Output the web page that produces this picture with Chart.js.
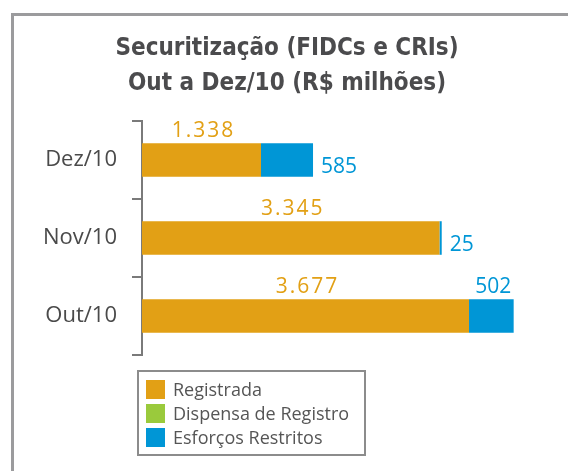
<!DOCTYPE html>
<html>
<head>
<meta charset="utf-8">
<script src="https://cdn.jsdelivr.net/npm/chart.js@4"></script>
<style>
  body { margin: 0; background: #fff; }
  #wrap { position: relative; width: 568px; height: 471px; overflow: hidden; }
  #frame { position: absolute; left: 11px; top: 13px; width: 600px; height: 500px;
           border-left: 3px solid #9b9b9d; border-top: 3px solid #9b9b9d; }
  #chart { position: absolute; left: 0; top: 0; }
  #legend { position: absolute; left: 137px; top: 370px; width: 229px; height: 86px;
            box-sizing: border-box; border: 2px solid #8c8c8c; padding: 6px 0 0 7px;
            font-family: "Open Sans", sans-serif; font-size: 18px; color: #555; }
  .item { display: flex; align-items: center; height: 26px; margin-top: -2px; }
  .item span.sw { width: 19px; height: 19px; margin-right: 8px; }
</style>
</head>
<body>
<div id="wrap">
  <div id="frame"></div>
  <canvas id="chart" width="568" height="471"></canvas>
  <div id="legend"></div>
</div>
<script>
const months = ['Dez/10', 'Nov/10', 'Out/10'];
const registrada = [1338, 3345, 3677];
const dispensa = [0, 0, 0];
const esforcos = [585, 25, 502];
const seriesNames = ['Registrada', 'Dispensa de Registro', 'Esforços Restritos'];
const seriesColors = ['#e2a015', '#9aca3c', '#0096d6'];

function fmt(v){
  return String(v).replace(/\B(?=(\d{3})+(?!\d))/g, '.');
}

// value labels: orange above each segment, blue beside or above
const barLabels = {
  id: 'barLabels',
  afterDatasetsDraw(chart, args, opts) {
    const ctx = chart.ctx;
    chart.data.datasets.forEach((ds, di) => {
      const place = opts.place[di];
      if (!place) return;
      chart.getDatasetMeta(di).data.forEach((bar, i) => {
        const v = ds.data[i];
        if (!v) return;
        const p = bar.getProps(['x', 'y', 'base', 'height'], true);
        ctx.save();
        ctx.font = '21px "Open Sans", sans-serif';
        ctx.fillStyle = ds.backgroundColor;
        ctx.textBaseline = 'alphabetic';
        if (place[i] === 'top') {
          ctx.letterSpacing = di === 0 ? '2px' : '0px';
          ctx.textAlign = 'center';
          ctx.fillText(fmt(v), (p.x + p.base) / 2 + 2, p.y - p.height / 2 - 6);
        } else {
          ctx.textAlign = 'left';
          ctx.fillText(fmt(v), p.x + 8, p.y + 13);
        }
        ctx.restore();
      });
    });
  }
};

const ctx = document.getElementById('chart').getContext('2d');
const chart = new Chart(ctx, {
  type: 'bar',
  data: {
    labels: months,
    datasets: [
      { label: seriesNames[0], data: registrada, backgroundColor: seriesColors[0] },
      { label: seriesNames[1], data: dispensa, backgroundColor: seriesColors[1] },
      { label: seriesNames[2], data: esforcos, backgroundColor: seriesColors[2] }
    ]
  },
  options: {
    indexAxis: 'y',
    responsive: false,
    animation: false,
    barPercentage: 0.43,
    categoryPercentage: 1,
    layout: { padding: { left: 14, right: 8, top: 0, bottom: 116 } },
    plugins: {
      legend: { display: false },
      tooltip: { enabled: false },
      title: {
        display: true,
        text: ['Securitização (FIDCs e CRIs)', 'Out a Dez/10 (R$ milhões)'],
        color: '#4b4b4d',
        font: { family: '"Liberation Sans Narrow", "DejaVu Sans Condensed", sans-serif', size: 24, weight: 'bold', lineHeight: '35px' },
        padding: { top: 31, bottom: 20 }
      },
      barLabels: { place: { 0: ['top', 'top', 'top'], 2: ['right', 'right', 'top'] } }
    },
    scales: {
      x: { display: false, stacked: true, min: 0, max: 4700 },
      y: {
        stacked: true,
        afterFit: (scale) => { scale.width = 128; },
        border: { display: true, color: '#7a7a7a', width: 2 },
        grid: { drawOnChartArea: false, drawTicks: true, tickLength: 10, offset: true, color: '#7a7a7a', lineWidth: 2 },
        ticks: { color: '#4a4a4a', padding: 15, font: { family: '"Open Sans", sans-serif', size: 22 } }
      }
    }
  },
  plugins: [barLabels]
});

const legend = document.getElementById('legend');
chart.data.datasets.forEach(ds => {
  const row = document.createElement('div');
  row.className = 'item';
  row.innerHTML = `<span class="sw" style="background:${ds.backgroundColor}"></span>${ds.label}`;
  legend.appendChild(row);
});
</script>
</body>
</html>
